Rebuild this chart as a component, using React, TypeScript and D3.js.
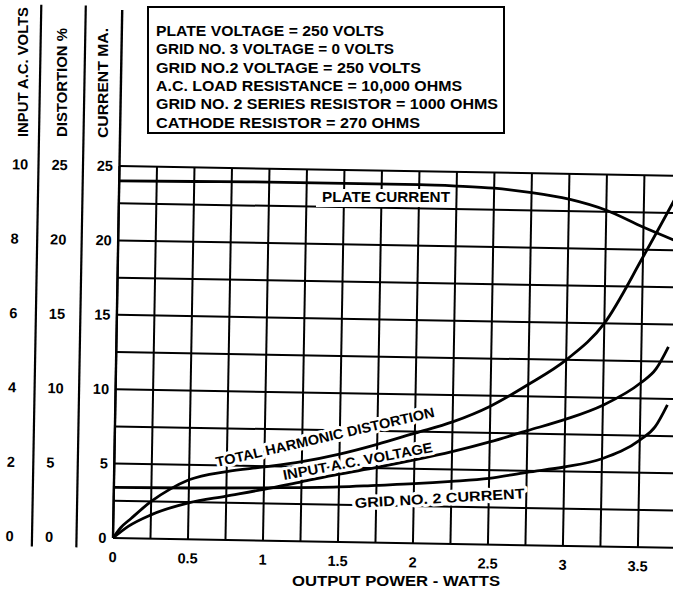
import React from 'react';
import * as d3 from 'd3';

// Kennlinien – Ausgangsleistung (W) gegen Strom / Klirrfaktor / Eingangsspannung
const plateCurrent: [number, number][] = [
  [0, 24.0], [0.5, 24.05], [1, 24.1], [1.5, 24.1], [2, 24.1], [2.25, 24.05],
  [2.5, 23.95], [2.75, 23.7], [3, 23.3], [3.25, 22.6], [3.5, 21.5], [3.75, 20.5],
];
const totalDistortion: [number, number][] = [
  [0, 0], [0.05, 0.7], [0.12, 1.35], [0.25, 2.5], [0.375, 3.35], [0.5, 4.0],
  [0.75, 4.6], [1, 4.95], [1.25, 5.35], [1.5, 5.9], [1.75, 6.6], [2, 7.4],
  [2.25, 8.2], [2.5, 9.3], [2.75, 10.8], [3, 12.5], [3.25, 15.0], [3.5, 19.5], [3.73, 23.9],
];
const inputVolts: [number, number][] = [
  [0, 0], [0.1, 0.32], [0.25, 0.64], [0.5, 0.98], [0.75, 1.18], [1, 1.38],
  [1.25, 1.6], [1.5, 1.82], [1.75, 2.02], [2, 2.24], [2.25, 2.48], [2.5, 2.76],
  [2.75, 3.08], [3, 3.4], [3.25, 3.8], [3.5, 4.42], [3.6, 4.8], [3.68, 5.4],
];
const grid2Current: [number, number][] = [
  [0, 3.4], [0.5, 3.45], [1, 3.55], [1.5, 3.7], [1.75, 3.85], [2, 4.0],
  [2.25, 4.2], [2.5, 4.45], [2.75, 4.9], [3, 5.3], [3.25, 5.9], [3.5, 7.2],
  [3.6, 8.1], [3.68, 9.6],
];

const wattTicks = [0, 0.5, 1, 1.5, 2, 2.5, 3, 3.5];
const wattLabels = ['0', '0.5', '1', '1.5', '2', '2.5', '3', '3.5'];
const voltTicks = [0, 2, 4, 6, 8, 10];
const distTicks = [0, 5, 10, 15, 20, 25];
const currentTicks = [0, 5, 10, 15, 20, 25];

const conditions = [
  'PLATE VOLTAGE = 250 VOLTS',
  'GRID NO. 3  VOLTAGE = 0 VOLTS',
  'GRID NO.2  VOLTAGE = 250 VOLTS',
  'A.C. LOAD RESISTANCE = 10,000 OHMS',
  'GRID NO. 2 SERIES RESISTOR = 1000 OHMS',
  'CATHODE RESISTOR = 270 OHMS',
];
const conditionWidths = [228, 238, 265, 306, 342, 264];

const W = 673;
const H = 591;
const font = '"Liberation Sans", Arial, sans-serif';

export default function App() {
  // Ursprung des Diagramms, das Blatt ist um ca. 1° verdreht eingescannt
  const ox = 113;
  const oy = 538;

  const x = d3.scaleLinear().domain([0, 3.75]).range([ox, ox + 562.5]);
  const yCur = d3.scaleLinear().domain([0, 25]).range([oy, 166]);
  const yDist = d3.scaleLinear().domain([0, 25]).range([oy, 166]);
  const yVolt = d3.scaleLinear().domain([0, 10]).range([oy, 166]);

  const mkLine = (ys: d3.ScaleLinear<number, number>) =>
    d3.line<[number, number]>()
      .x(d => x(d[0]))
      .y(d => ys(d[1]))
      .curve(d3.curveMonotoneX);

  const vLines = d3.range(0, 3.76, 0.25);
  const hLines = d3.range(0, 25.01, 2.5);

  const bold = { fontFamily: font, fontWeight: 700 } as const;
  const halo = { stroke: 'white', strokeWidth: 6, paintOrder: 'stroke' as const, strokeLinejoin: 'round' as const };

  return (
    <>
      <style>{`body{margin:0}`}</style>
      <svg width={W} height={H} style={{ display: 'block', background: '#fff' }}>
        <rect width={W} height={H} fill="#fff" />

        <g transform={`rotate(1, ${ox}, ${oy})`}>
          {/* Gitter */}
          {vLines.map(v => (
            <line key={'v' + v} x1={x(v)} x2={x(v)} y1={yCur(0)} y2={yCur(25)} stroke="#000" strokeWidth={2} />
          ))}
          {hLines.map(h => (
            <line key={'h' + h} x1={x(0)} x2={x(3.75)} y1={yCur(h)} y2={yCur(h)} stroke="#000" strokeWidth={2} />
          ))}
          {/* linke Achse bis nach oben verlängert, Trennlinien der Skalen */}
          <line x1={x(0)} x2={x(0)} y1={yCur(0)} y2={10} stroke="#000" strokeWidth={2.4} />
          <line x1={32} x2={32} y1={548} y2={6} stroke="#000" strokeWidth={2.2} />
          <line x1={76.5} x2={76.5} y1={548} y2={6} stroke="#000" strokeWidth={2.2} />

          {/* Kurven */}
          <path d={mkLine(yCur)(plateCurrent) ?? ''} fill="none" stroke="#000" strokeWidth={2.8} />
          <path d={mkLine(yDist)(totalDistortion) ?? ''} fill="none" stroke="#000" strokeWidth={2.8} />
          <path d={mkLine(yVolt)(inputVolts) ?? ''} fill="none" stroke="#000" strokeWidth={2.8} />
          <path d={mkLine(yCur)(grid2Current) ?? ''} fill="none" stroke="#000" strokeWidth={2.8} />

          {/* Skalenbeschriftung */}
          {wattTicks.map((t, i) => (
            <text key={'xt' + t} x={x(t)} y={oy + 24} textAnchor="middle" fontSize={14.5} style={bold}>
              {wattLabels[i]}
            </text>
          ))}
          {voltTicks.map(t => (
            <text key={'vt' + t} x={5.5} y={yVolt(t) + 5} fontSize={14.5} style={bold}>{t}</text>
          ))}
          {distTicks.map(t => (
            <text key={'dt' + t} x={45} y={yDist(t) + 5} fontSize={14.5} style={bold}>{t}</text>
          ))}
          {currentTicks.map(t => (
            <text key={'ct' + t} x={106.5} y={yCur(t) + 5} textAnchor="end" fontSize={14.5} style={bold}>{t}</text>
          ))}
        </g>

        {/* Achsentitel */}
        <text transform="translate(28,137) rotate(-90)" fontSize={14} style={bold} textLength={130} lengthAdjust="spacingAndGlyphs">
          INPUT A.C. VOLTS
        </text>
        <text transform="translate(67,137) rotate(-90)" fontSize={14} style={bold} textLength={109} lengthAdjust="spacingAndGlyphs">
          DISTORTION %
        </text>
        <text transform="translate(108,138) rotate(-90)" fontSize={14} style={bold} textLength={110} lengthAdjust="spacingAndGlyphs">
          CURRENT MA.
        </text>
        <text x={292} y={586} fontSize={14} style={bold} textLength={208} lengthAdjust="spacingAndGlyphs">
          OUTPUT POWER - WATTS
        </text>

        {/* Kurvenbeschriftungen */}
        <rect x={316} y={189} width={138} height={18} fill="#fff" />
        <text x={322} y={202} fontSize={14} style={bold} textLength={128} lengthAdjust="spacingAndGlyphs">
          PLATE CURRENT
        </text>
        <text transform="translate(217,467) rotate(-13)" fontSize={14} style={{ ...bold, ...halo }} textLength={224} lengthAdjust="spacingAndGlyphs">
          TOTAL HARMONIC DISTORTION
        </text>
        <text transform="translate(284,480) rotate(-10.7)" fontSize={14} style={{ ...bold, ...halo }} textLength={152} lengthAdjust="spacingAndGlyphs">
          INPUT A.C. VOLTAGE
        </text>
        <text transform="translate(355,508) rotate(-3.3)" fontSize={14} style={{ ...bold, ...halo }} textLength={170} lengthAdjust="spacingAndGlyphs">
          GRID NO. 2 CURRENT
        </text>

        {/* Betriebsdaten */}
        <rect x={148} y={7} width={356} height={126} fill="#fff" stroke="#000" strokeWidth={2} />
        {conditions.map((c, i) => (
          <text key={c} x={156} y={36 + i * 18.3} fontSize={14} style={bold}
            textLength={conditionWidths[i]} lengthAdjust="spacingAndGlyphs">
            {c}
          </text>
        ))}
      </svg>
    </>
  );
}
